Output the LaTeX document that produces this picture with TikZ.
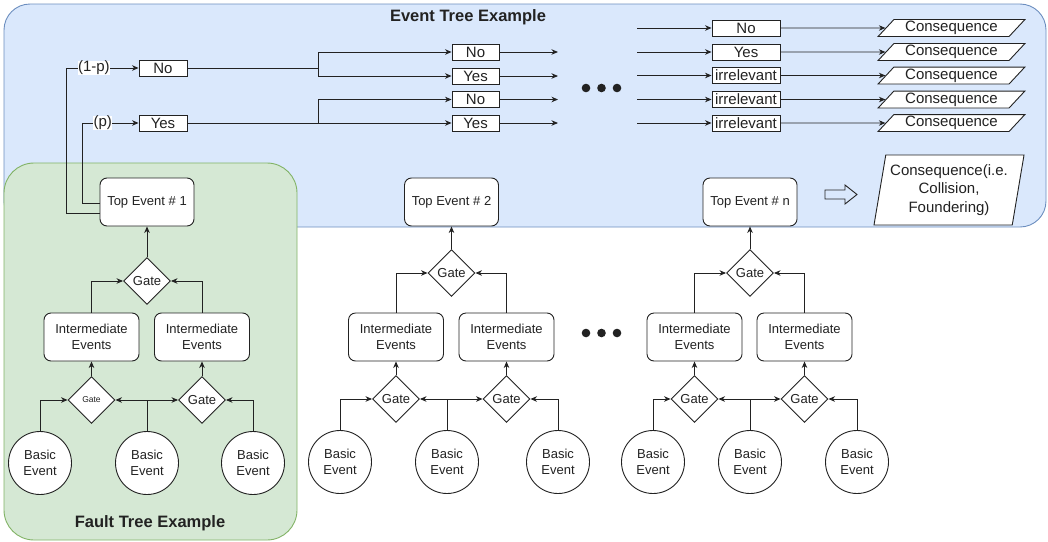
\documentclass[tikz,border=0pt]{standalone}
\usepackage{fontspec}
\setmainfont{Liberation Sans}
\usetikzlibrary{shapes.geometric,arrows.meta}

\definecolor{ink}{RGB}{34,34,34}
\definecolor{etfill}{HTML}{DAE8FC}
\definecolor{etline}{HTML}{6C8EBF}
\definecolor{ftfill}{HTML}{D5E8D4}
\definecolor{ftline}{HTML}{82B366}

\tikzset{
  wire/.style={draw=ink, line width=0.9pt},
  arr/.style={wire, -{Stealth[length=6.5pt,width=5.5pt,inset=2pt]}},
  evbox/.style={draw=ink, line width=0.9pt, fill=white, text=ink, minimum height=16pt,
    inner sep=0pt, font=\fontsize{15}{17}\selectfont},
  ftbox/.style={draw=ink, line width=0.9pt, fill=white, text=ink, rounded corners=7pt,
    minimum width=94pt, minimum height=48pt, align=center, inner sep=1pt,
    font=\fontsize{13}{16}\selectfont},
  gatebox/.style={diamond, draw=ink, line width=0.9pt, fill=white, text=ink,
    minimum width=47pt, minimum height=47pt, inner sep=0pt,
    font=\fontsize{13}{15}\selectfont},
  basic/.style={circle, draw=ink, line width=0.9pt, fill=white, text=ink,
    minimum size=63pt, inner sep=0pt, align=center, font=\fontsize{13}{16.5}\selectfont},
  conseq/.style={trapezium, trapezium left angle=47, trapezium right angle=133,
    draw=ink, line width=0.9pt, fill=white, text=ink, minimum width=147pt,
    minimum height=16pt, inner sep=0pt, font=\fontsize{15}{17}\selectfont},
  lbl/.style={fill=white, text=ink, inner sep=0.5pt, font=\fontsize{15}{17}\selectfont},
  paneltitle/.style={text=ink, font=\fontsize{16.5}{19}\selectfont\bfseries},
  dot/.style={fill=ink},
}

% connectors of one fault tree, nodes named top#1, g#1, i#1a/b, g#1a/b, b#1a/b/c
\newcommand\ftlinks[1]{%
  \draw[arr] (g#1.north) -- (top#1.south);
  \draw[arr] (i#1a.north) |- (g#1.west);
  \draw[arr] (i#1b.north) |- (g#1.east);
  \draw[arr] (g#1a.north) -- (i#1a.south);
  \draw[arr] (g#1b.north) -- (i#1b.south);
  \draw[arr] (b#1a.north) |- (g#1a.west);
  \draw[arr] (b#1b.north) |- (g#1a.east);
  \draw[arr] (b#1b.north) |- (g#1b.west);
  \draw[arr] (b#1c.north) |- (g#1b.east);
}

\begin{document}
\begin{tikzpicture}[x=1pt,y=-1pt]
\useasboundingbox (0,0) rectangle (1048,541);

% background panels
\draw[etline, fill=etfill, line width=0.9pt, rounded corners=26pt] (4,4) rectangle (1046,227);
\draw[ftline, fill=ftfill, line width=0.9pt, rounded corners=30pt] (4,163) rectangle (297,540);

\node[paneltitle] (ettitle) at (468,17) {Event Tree Example};
\node[paneltitle] (fttitle) at (150,523) {Fault Tree Example};

% ---------- fault tree 1 ----------
\node[ftbox] (top1) at (147,202) {Top Event \# 1};
\node[gatebox] (g1) at (147,281) {Gate};
\node[ftbox, minimum width=95pt] (i1a) at (91.5,337) {Intermediate\\Events};
\node[ftbox, minimum width=95pt] (i1b) at (202,337) {Intermediate\\Events};
\node[gatebox, font=\fontsize{8.5}{10}\selectfont] (g1a) at (91.5,400) {Gate};
\node[gatebox] (g1b) at (202,400) {Gate};
\node[basic] (b1a) at (40,463) {Basic\\Event};
\node[basic] (b1b) at (147,463) {Basic\\Event};
\node[basic] (b1c) at (253,463) {Basic\\Event};
\ftlinks{1}

% ---------- fault tree 2 ----------
\node[ftbox] (top2) at (451.5,202) {Top Event \# 2};
\node[gatebox] (g2) at (451.5,273) {Gate};
\node[ftbox, minimum width=95pt] (i2a) at (396,337) {Intermediate\\Events};
\node[ftbox, minimum width=95pt] (i2b) at (506.5,337) {Intermediate\\Events};
\node[gatebox] (g2a) at (396,399) {Gate};
\node[gatebox] (g2b) at (506.5,399) {Gate};
\node[basic] (b2a) at (340,462) {Basic\\Event};
\node[basic] (b2b) at (447,462) {Basic\\Event};
\node[basic] (b2c) at (558,462) {Basic\\Event};
\ftlinks{2}

% ---------- fault tree n ----------
\node[ftbox] (topn) at (750,202) {Top Event \# n};
\node[gatebox] (gn) at (750,273) {Gate};
\node[ftbox, minimum width=95pt] (ina) at (694.5,337) {Intermediate\\Events};
\node[ftbox, minimum width=95pt] (inb) at (804.5,337) {Intermediate\\Events};
\node[gatebox] (gna) at (694.5,399) {Gate};
\node[gatebox] (gnb) at (804.5,399) {Gate};
\node[basic] (bna) at (653,462) {Basic\\Event};
\node[basic] (bnb) at (750,462) {Basic\\Event};
\node[basic] (bnc) at (857,462) {Basic\\Event};
\ftlinks{n}

% ellipsis between fault trees
\foreach \x in {586,601.5,617} \fill[dot] (\x,333) circle (4.3pt);

% ---------- event tree ----------
\node[evbox, minimum width=48pt] (no1) at (163,68) {No};
\node[evbox, minimum width=48pt] (yes1) at (163,123) {Yes};
\draw[arr] ([yshift=-11pt]top1.west) -- ++(-33,0) |- (no1.west) node[lbl, pos=0.69] {(1-p)};
\draw[arr] ([yshift=-1pt]top1.west) -- ++(-17,0) |- (yes1.west) node[lbl, pos=0.68] {(p)};

\node[evbox, minimum width=47pt] (no2) at (475.5,52) {No};
\node[evbox, minimum width=47pt] (yes2) at (475.5,76) {Yes};
\node[evbox, minimum width=47pt] (no3) at (475.5,99.5) {No};
\node[evbox, minimum width=47pt] (yes3) at (475.5,123) {Yes};

\coordinate (j1) at (318,68);
\coordinate (j2) at (318,123);
\draw[wire] (no1.east) -- (j1);
\draw[arr] (j1) |- (no2.west);
\draw[arr] (j1) |- (yes2.west);
\draw[wire] (yes1.east) -- (j2);
\draw[arr] (j2) |- (no3.west);
\draw[arr] (j2) -- (yes3.west);

\coordinate (o1) at (558,52);
\coordinate (o2) at (558,76);
\coordinate (o3) at (558,99.5);
\coordinate (o4) at (558,123);
\draw[arr] (no2.east) -- (o1);
\draw[arr] (yes2.east) -- (o2);
\draw[arr] (no3.east) -- (o3);
\draw[arr] (yes3.east) -- (o4);

\foreach \x in {586,601.5,617} \fill[dot] (\x,88) circle (4.3pt);

% last stage and outcomes
\foreach \i/\y/\t in {1/28/No, 2/52/Yes, 3/75.5/irrelevant, 4/99.5/irrelevant, 5/123/irrelevant}{
  \coordinate (s\i) at (637,\y);
  \node[evbox, minimum width=68pt] (r\i) at (746,\y) {\t};
  \node[conseq] (c\i) at (951.5,\y) {Consequence};
  \draw[arr] (s\i) -- (r\i.west);
  \draw[arr] (r\i.east) -- (c\i);
}

% legend: top event leads to consequence
\draw[ink, line width=0.9pt, line join=miter]
  (825,190) -- (845,190) -- (845,185) -- (857,194.5) -- (845,204) -- (845,199) -- (825,199) -- cycle;
\node[conseq, trapezium left angle=77, trapezium right angle=103, trapezium stretches body=true,
  minimum width=150pt, minimum height=70pt, align=center, font=\fontsize{15}{18.5}\selectfont]
  (cbig) at (949,190) {Consequence(i.e.\\Collision,\\Foundering)};

\end{tikzpicture}
\end{document}
